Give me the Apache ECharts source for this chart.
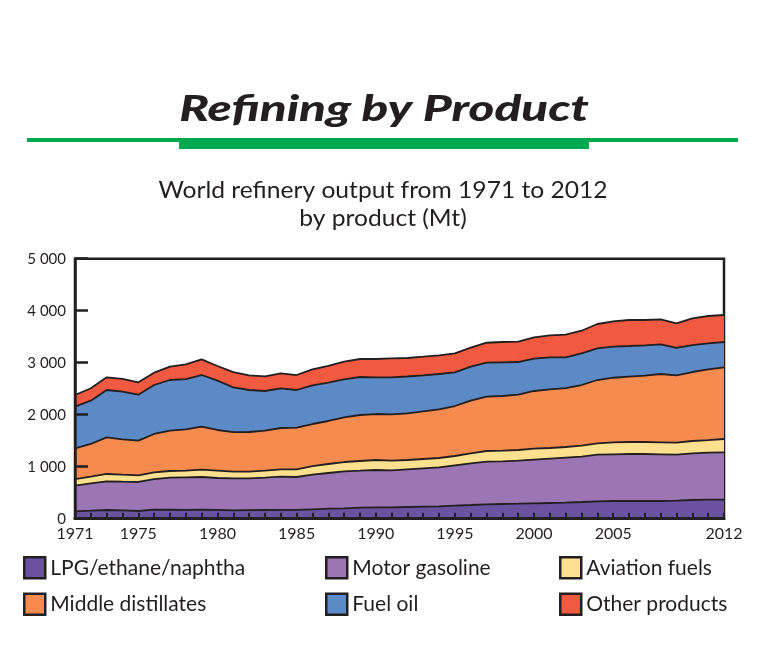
<!DOCTYPE html>
<html>
<head>
<meta charset="utf-8">
<script src="https://cdn.jsdelivr.net/npm/echarts@6/dist/echarts.min.js"></script>
<style>
html,body{margin:0;padding:0;background:#fff;}
#chart{width:764px;height:666px;}
</style>
</head>
<body>
<div id="chart"></div>
<script>
const years = [];
for (let y = 1971; y <= 2012; y++) years.push(String(y));
const labelYears = ['1971','1975','1980','1985','1990','1995','2000','2005','2012'];
const yTickLabels = ['0','1 000','2 000','3 000','4 000','5 000'];

const chartTitle = 'Refining by Product';
const chartSubtitle = 'World refinery output from 1971 to 2012\nby product (Mt)';

const seriesNames = ['LPG/ethane/naphtha','Motor gasoline','Aviation fuels','Middle distillates','Fuel oil','Other products'];

const lpg = [142,154,167,162,148,173,172,170,172,168,162,165,167,168,168,181,192,200,212,219,219,225,231,238,250,263,277,283,288,296,302,308,321,335,340,340,340,340,346,360,365,365];
const motorGasoline = [493,527,552,550,558,590,616,626,630,615,613,612,621,640,634,665,687,711,711,718,712,725,738,750,777,802,819,821,827,839,852,865,871,896,898,904,904,898,885,898,904,912];
const aviationFuels = [128,127,141,134,129,129,129,127,140,140,129,127,135,142,148,167,173,179,187,192,184,179,179,179,179,193,206,204,206,211,206,206,212,219,231,231,231,231,231,236,244,256];
const middleDistillates = [591,629,705,681,665,737,775,796,827,783,761,763,769,794,800,808,827,860,884,884,892,898,917,937,961,1011,1044,1052,1064,1110,1128,1131,1167,1217,1242,1256,1275,1314,1295,1327,1360,1378];
const fuelOil = [800,832,910,915,885,942,975,967,994,948,862,808,764,764,725,744,736,731,731,706,712,708,692,679,648,654,654,648,628,621,616,594,610,610,597,590,585,571,526,519,500,487];
const otherProducts = [225,239,244,245,238,237,256,283,302,283,293,282,282,288,288,308,322,338,346,352,366,355,358,359,366,365,384,390,391,411,423,434,434,467,488,500,486,480,475,514,525,519];

const seriesData = [lpg, motorGasoline, aviationFuels, middleDistillates, fuelOil, otherProducts];
const colors = ['#6b52a1','#9c76b4','#fee08f','#f68b50','#5b8ac6','#f15a40'];
const ink = '#231f20';
const green = '#00a94f';
const font = 'Lato';

const chart = echarts.init(document.getElementById('chart'), null, {renderer:'canvas'});

const series = seriesNames.map((name, i) => ({
  name: name,
  type: 'line',
  stack: 'total',
  data: seriesData[i],
  symbol: 'none',
  smooth: false,
  itemStyle: {color: colors[i]},
  lineStyle: {color: ink, width: 1.8},
  areaStyle: {color: colors[i], opacity: 1},
  emphasis: {disabled: true},
  z: 2
}));

const legendCommon = {
  orient: 'vertical',
  top: 556,
  padding: 0,
  itemWidth: 21,
  itemHeight: 21,
  itemGap: 13,
  icon: 'rect',
  itemStyle: {borderColor: ink, borderWidth: 2.5},
  textStyle: {fontFamily: font, fontSize: 21, color: ink},
  selectedMode: false
};

chart.setOption({
  animation: false,
  graphic: [
    {type: 'rect', shape: {x: 27, y: 138, width: 711, height: 4}, style: {fill: green}},
    {type: 'rect', shape: {x: 179, y: 138, width: 410, height: 11}, style: {fill: green}},
    {
      type: 'text', x: 384, y: 91, scaleX: 1.37,
      style: {text: chartTitle, fontFamily: font, fontSize: 36, fontWeight: 900, fontStyle: 'italic',
              fill: ink, align: 'center', verticalAlign: 'top'}
    },
    {
      type: 'text', x: 383, y: 177, scaleX: 1.07,
      style: {text: chartSubtitle, fontFamily: font, fontSize: 23, fill: ink,
              align: 'center', verticalAlign: 'top', lineHeight: 28}
    }
  ],
  legend: [
    Object.assign({}, legendCommon, {left: 23, data: [seriesNames[0], seriesNames[3]]}),
    Object.assign({}, legendCommon, {left: 325, data: [seriesNames[1], seriesNames[4]]}),
    Object.assign({}, legendCommon, {left: 559, data: [seriesNames[2], seriesNames[5]]})
  ],
  grid: {
    left: 75, right: 40, top: 258.7, bottom: 147.3,
    show: true, borderColor: ink, borderWidth: 2.5, backgroundColor: 'transparent',
    containLabel: false
  },
  xAxis: {
    type: 'category',
    data: years,
    boundaryGap: false,
    z: 10,
    axisLine: {show: true, lineStyle: {color: ink, width: 3}},
    axisTick: {show: true, inside: true, length: 6, interval: 0, lineStyle: {color: ink, width: 2}},
    axisLabel: {
      interval: (idx, val) => labelYears.indexOf(val) >= 0,
      fontFamily: font, fontSize: 16, color: ink, margin: 7
    },
    splitLine: {show: false}
  },
  yAxis: {
    type: 'value',
    min: 0, max: 5000, interval: 1000,
    z: 10,
    axisLine: {show: true, lineStyle: {color: ink, width: 2.5}},
    axisTick: {show: true, inside: true, length: 13, lineStyle: {color: ink, width: 2.5}},
    axisLabel: {
      formatter: v => yTickLabels[Math.round(v / 1000)],
      fontFamily: font, fontSize: 15, color: ink, margin: 9
    },
    splitLine: {show: false}
  },
  series: series
});
</script>
</body>
</html>
